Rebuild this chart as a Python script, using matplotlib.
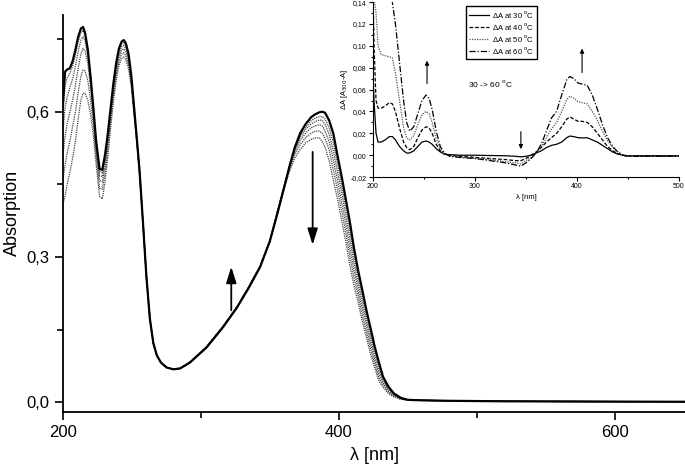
import numpy as np
import matplotlib
matplotlib.use("Agg")
import matplotlib.pyplot as plt
from matplotlib.ticker import FuncFormatter, MultipleLocator

plt.rcParams['font.family'] = ['Liberation Sans', 'DejaVu Sans']

# main spectra, six temperatures (abs_1 = highest curve)
wl = [200, 201.5, 203, 205, 207, 209, 211, 213, 214.5, 216, 218, 220, 222, 224, 226.5, 228.5, 230.5, 232.5,
      234.5, 236.5, 238.5, 240.5, 242.5, 244, 245.5, 247.5, 249.5, 251.5, 253.5, 255.5, 258, 260.5, 263,
      265.5, 268, 271, 275, 280, 285, 292, 304, 316, 326, 335, 343, 350, 355, 360, 364, 368, 372, 376, 380,
      383, 386, 388, 390, 393, 396, 399, 402, 405, 408, 411, 414, 417, 420, 423, 426, 429, 432, 436, 440,
      445, 450, 460, 480, 520, 580, 651]

abs_1 = [0.62, 0.683, 0.687, 0.690, 0.705, 0.728, 0.755, 0.772, 0.775, 0.763, 0.728, 0.672, 0.608, 0.54,
         0.482, 0.48, 0.512, 0.555, 0.607, 0.658, 0.70, 0.73, 0.745, 0.748, 0.742, 0.72, 0.675, 0.61, 0.545,
         0.478, 0.37, 0.258, 0.172, 0.122, 0.097, 0.082, 0.072, 0.068, 0.07, 0.082, 0.113, 0.155, 0.195,
         0.238, 0.28, 0.333, 0.385, 0.44, 0.485, 0.526, 0.556, 0.575, 0.589, 0.595, 0.599, 0.600, 0.598,
         0.582, 0.555, 0.51, 0.467, 0.42, 0.372, 0.318, 0.272, 0.232, 0.19, 0.153, 0.115, 0.083, 0.053,
         0.032, 0.018, 0.009, 0.005, 0.004, 0.003, 0.002, 0.0015, 0.001]
abs_2 = [0.60, 0.655, 0.67, 0.68, 0.695, 0.718, 0.745, 0.764, 0.768, 0.757, 0.723, 0.668, 0.604, 0.536,
         0.476, 0.474, 0.506, 0.55, 0.602, 0.653, 0.695, 0.725, 0.74, 0.743, 0.737, 0.715, 0.671, 0.608,
         0.544, 0.477, 0.37, 0.258, 0.172, 0.122, 0.097, 0.082, 0.072, 0.068, 0.07, 0.082, 0.113, 0.155,
         0.195, 0.238, 0.28, 0.333, 0.387, 0.441, 0.485, 0.523, 0.551, 0.569, 0.582, 0.587, 0.590, 0.590,
         0.585, 0.567, 0.536, 0.493, 0.449, 0.403, 0.354, 0.303, 0.259, 0.219, 0.179, 0.142, 0.106, 0.075,
         0.049, 0.029, 0.016, 0.008, 0.005, 0.004, 0.003, 0.002, 0.0015, 0.001]
abs_3 = [0.56, 0.61, 0.63, 0.65, 0.668, 0.695, 0.725, 0.748, 0.755, 0.746, 0.715, 0.662, 0.599, 0.53,
         0.468, 0.466, 0.498, 0.543, 0.596, 0.647, 0.689, 0.719, 0.734, 0.737, 0.731, 0.71, 0.667, 0.606,
         0.543, 0.476, 0.37, 0.258, 0.172, 0.122, 0.097, 0.082, 0.072, 0.068, 0.07, 0.082, 0.113, 0.156,
         0.196, 0.239, 0.281, 0.333, 0.389, 0.443, 0.485, 0.521, 0.547, 0.564, 0.575, 0.580, 0.583, 0.582,
         0.574, 0.553, 0.519, 0.476, 0.433, 0.386, 0.337, 0.288, 0.246, 0.206, 0.168, 0.131, 0.097, 0.067,
         0.044, 0.026, 0.015, 0.008, 0.005, 0.004, 0.003, 0.002, 0.0015, 0.001]
abs_4 = [0.51, 0.55, 0.575, 0.60, 0.625, 0.655, 0.69, 0.72, 0.731, 0.725, 0.699, 0.65, 0.59, 0.522,
         0.458, 0.455, 0.488, 0.534, 0.588, 0.64, 0.682, 0.712, 0.727, 0.73, 0.724, 0.704, 0.663, 0.603,
         0.541, 0.475, 0.37, 0.258, 0.172, 0.122, 0.097, 0.082, 0.072, 0.068, 0.07, 0.082, 0.114, 0.156,
         0.196, 0.239, 0.281, 0.333, 0.390, 0.443, 0.484, 0.517, 0.541, 0.556, 0.567, 0.571, 0.573, 0.571,
         0.560, 0.538, 0.500, 0.458, 0.414, 0.369, 0.319, 0.273, 0.233, 0.193, 0.157, 0.121, 0.088, 0.059,
         0.040, 0.023, 0.014, 0.007, 0.005, 0.004, 0.003, 0.002, 0.0015, 0.001]
abs_5 = [0.46, 0.49, 0.515, 0.54, 0.57, 0.60, 0.64, 0.674, 0.686, 0.684, 0.664, 0.624, 0.572, 0.508,
         0.442, 0.44, 0.474, 0.522, 0.578, 0.631, 0.674, 0.704, 0.719, 0.722, 0.716, 0.697, 0.658, 0.599,
         0.539, 0.474, 0.37, 0.258, 0.172, 0.122, 0.097, 0.082, 0.072, 0.068, 0.07, 0.082, 0.114, 0.157,
         0.197, 0.240, 0.282, 0.334, 0.389, 0.441, 0.480, 0.511, 0.532, 0.547, 0.556, 0.560, 0.560, 0.555,
         0.545, 0.521, 0.480, 0.439, 0.396, 0.351, 0.301, 0.257, 0.220, 0.180, 0.145, 0.110, 0.080, 0.051,
         0.036, 0.021, 0.012, 0.006, 0.005, 0.004, 0.003, 0.002, 0.0015, 0.001]
abs_6 = [0.41, 0.425, 0.45, 0.475, 0.505, 0.54, 0.585, 0.625, 0.638, 0.638, 0.624, 0.594, 0.55, 0.492,
         0.425, 0.42, 0.456, 0.507, 0.565, 0.62, 0.664, 0.695, 0.71, 0.713, 0.708, 0.689, 0.652, 0.594,
         0.536, 0.473, 0.37, 0.258, 0.172, 0.122, 0.097, 0.082, 0.072, 0.068, 0.07, 0.083, 0.115, 0.157,
         0.197, 0.240, 0.282, 0.334, 0.386, 0.437, 0.475, 0.504, 0.522, 0.536, 0.543, 0.546, 0.546, 0.538,
         0.527, 0.499, 0.458, 0.420, 0.376, 0.332, 0.282, 0.241, 0.206, 0.167, 0.134, 0.099, 0.071, 0.044,
         0.031, 0.018, 0.011, 0.006, 0.005, 0.004, 0.003, 0.002, 0.0015, 0.001]

# inset: difference spectra
iw = [200, 201, 203, 205, 208, 212, 216, 219, 222, 226, 230, 233, 236, 240, 244, 248, 252, 255, 258, 262,
      266, 270, 275, 285, 300, 315, 330, 340, 345, 350, 355, 360, 365, 370, 375, 380, 385, 390, 393, 397,
      401, 405, 410, 415, 420, 425, 430, 435, 440, 445, 450, 470, 500]
dA_30 = [0.078, 0.05, 0.02, 0.012, 0.012, 0.014, 0.017, 0.017, 0.014, 0.008, 0.004, 0.002, 0.002, 0.004,
         0.008, 0.012, 0.013, 0.012, 0.010, 0.006, 0.003, 0.001, 0.0005, 0.0, 0.0, -0.0003, -0.0005, -0.001,
         -0.0015, -0.001, 0.0, 0.002, 0.004, 0.007, 0.009, 0.010, 0.012, 0.016, 0.0175, 0.017, 0.016, 0.0158,
         0.016, 0.014, 0.012, 0.009, 0.006, 0.003, 0.001, 0.0, -0.0005, -0.0005, -0.0005]
dA_40 = [0.15, 0.10, 0.05, 0.043, 0.043, 0.045, 0.048, 0.047, 0.04, 0.025, 0.012, 0.007, 0.005, 0.008, 0.016,
         0.023, 0.026, 0.025, 0.02, 0.01, 0.004, 0.001, 0.0, -0.001, -0.002, -0.003, -0.004, -0.005, -0.005,
         -0.003, 0.0, 0.003, 0.007, 0.012, 0.016, 0.02, 0.026, 0.033, 0.035, 0.033, 0.031, 0.031, 0.03, 0.026,
         0.02, 0.014, 0.008, 0.004, 0.0015, 0.0, -0.001, -0.001, -0.001]
dA_50 = [0.15, 0.145, 0.13, 0.10, 0.092, 0.091, 0.09, 0.089, 0.075, 0.05, 0.025, 0.016, 0.014, 0.018, 0.028,
         0.037, 0.04, 0.038, 0.03, 0.015, 0.006, 0.001, -0.0005, -0.002, -0.003, -0.004, -0.006, -0.007,
         -0.008, -0.005, -0.002, 0.002, 0.008, 0.016, 0.024, 0.03, 0.04, 0.051, 0.054, 0.052, 0.049, 0.048,
         0.047, 0.04, 0.032, 0.022, 0.013, 0.007, 0.003, 0.0, -0.001, -0.001, -0.001]
dA_60 = [0.15, 0.15, 0.15, 0.15, 0.15, 0.15, 0.15, 0.14, 0.12, 0.085, 0.05, 0.03, 0.022, 0.026, 0.038, 0.05,
         0.055, 0.052, 0.042, 0.022, 0.008, 0.002, -0.001, -0.002, -0.003, -0.005, -0.007, -0.009, -0.01,
         -0.007, -0.003, 0.002, 0.01, 0.022, 0.034, 0.04, 0.055, 0.069, 0.072, 0.07, 0.066, 0.065, 0.064,
         0.055, 0.042, 0.028, 0.016, 0.008, 0.003, 0.0, -0.001, -0.001, -0.001]
inset_labels = ['ΔA at 30 $^{\\rm o}$C', 'ΔA at 40 $^{\\rm o}$C', 'ΔA at 50 $^{\\rm o}$C', 'ΔA at 60 $^{\\rm o}$C']


def comma(decimals):
    return FuncFormatter(lambda v, p: f"{v:.{decimals}f}".replace('.', ','))


fig = plt.figure(figsize=(6.85, 4.66), dpi=100)
ax = fig.add_axes([0.092, 0.116, 0.908, 0.852])

ax.plot(wl, abs_1, color='black', lw=1.6, zorder=5)
for a in [abs_2, abs_3, abs_4, abs_5, abs_6]:
    ax.plot(wl, a, color='#444444', lw=0.9, ls=(0, (1, 0.8)))

ax.set_xlim(200, 651)
ax.set_ylim(-0.02, 0.8)
ax.xaxis.set_major_locator(MultipleLocator(200))
ax.xaxis.set_minor_locator(MultipleLocator(100))
ax.yaxis.set_major_locator(MultipleLocator(0.3))
ax.yaxis.set_minor_locator(MultipleLocator(0.15))
ax.yaxis.set_major_formatter(comma(1))
for s in ['top', 'right']:
    ax.spines[s].set_visible(False)
for s in ['left', 'bottom']:
    ax.spines[s].set_linewidth(1.3)
ax.tick_params(which='major', length=6, width=1.2, labelsize=12)
ax.tick_params(which='minor', length=4, width=1.2)
ax.set_xlabel('λ [nm]', fontsize=13, labelpad=5)
ax.set_ylabel('Absorption', fontsize=13, labelpad=4)

arrow_style = dict(arrowstyle='-|>,head_length=0.7,head_width=0.22', color='black', lw=1.3,
                   mutation_scale=14, shrinkA=0, shrinkB=0)
ax.annotate('', xy=(322, 0.28), xytext=(322, 0.19), arrowprops=arrow_style)
ax.annotate('', xy=(381, 0.325), xytext=(381, 0.517), arrowprops=arrow_style)

# inset
ins = fig.add_axes([0.5445, 0.620, 0.4467, 0.3755])
ins.patch.set_alpha(0)
ins.plot(iw, dA_30, color='black', lw=0.9, ls='-', label=inset_labels[0])
ins.plot(iw, dA_40, color='black', lw=0.9, ls=(0, (3, 1.5)), label=inset_labels[1])
ins.plot(iw, dA_50, color='#555555', lw=0.9, ls=(0, (1, 1)), label=inset_labels[2])
ins.plot(iw, dA_60, color='black', lw=0.9, ls=(0, (5, 1.5, 1, 1.5)), label=inset_labels[3])
ins.set_xlim(200, 500)
ins.set_ylim(-0.02, 0.14)
ins.xaxis.set_major_locator(MultipleLocator(100))
ins.xaxis.set_minor_locator(MultipleLocator(50))
ins.yaxis.set_major_locator(MultipleLocator(0.02))
ins.yaxis.set_minor_locator(MultipleLocator(0.01))
ins.yaxis.set_major_formatter(comma(2))
for s in ['top', 'right']:
    ins.spines[s].set_visible(False)
ins.tick_params(which='major', length=3, width=0.8, labelsize=5, pad=1.5)
ins.tick_params(which='minor', length=1.5, width=0.8)
ins.set_xlabel('λ [nm]', fontsize=5.5, labelpad=3)
ins.set_ylabel('ΔA [A$_{300}$-A]', fontsize=5.5, labelpad=0.5)
ins.legend(loc='upper left', bbox_to_anchor=(0.305, 0.975), fontsize=5.5, frameon=True, fancybox=False,
           edgecolor='black', framealpha=1, handlelength=2.6, handletextpad=0.4, borderpad=0.35,
           labelspacing=0.12, borderaxespad=0)
ins.text(293, 0.062, '30 -> 60 $^{\\rm o}$C', fontsize=6)
for x0, y0, y1 in [(253, 0.063, 0.089), (345, 0.024, 0.003), (405, 0.073, 0.100)]:
    ins.annotate('', xy=(x0, y1), xytext=(x0, y0),
                 arrowprops=dict(arrowstyle='-|>', color='black', lw=0.8, mutation_scale=6))

fig.savefig('out.png', dpi=100)
